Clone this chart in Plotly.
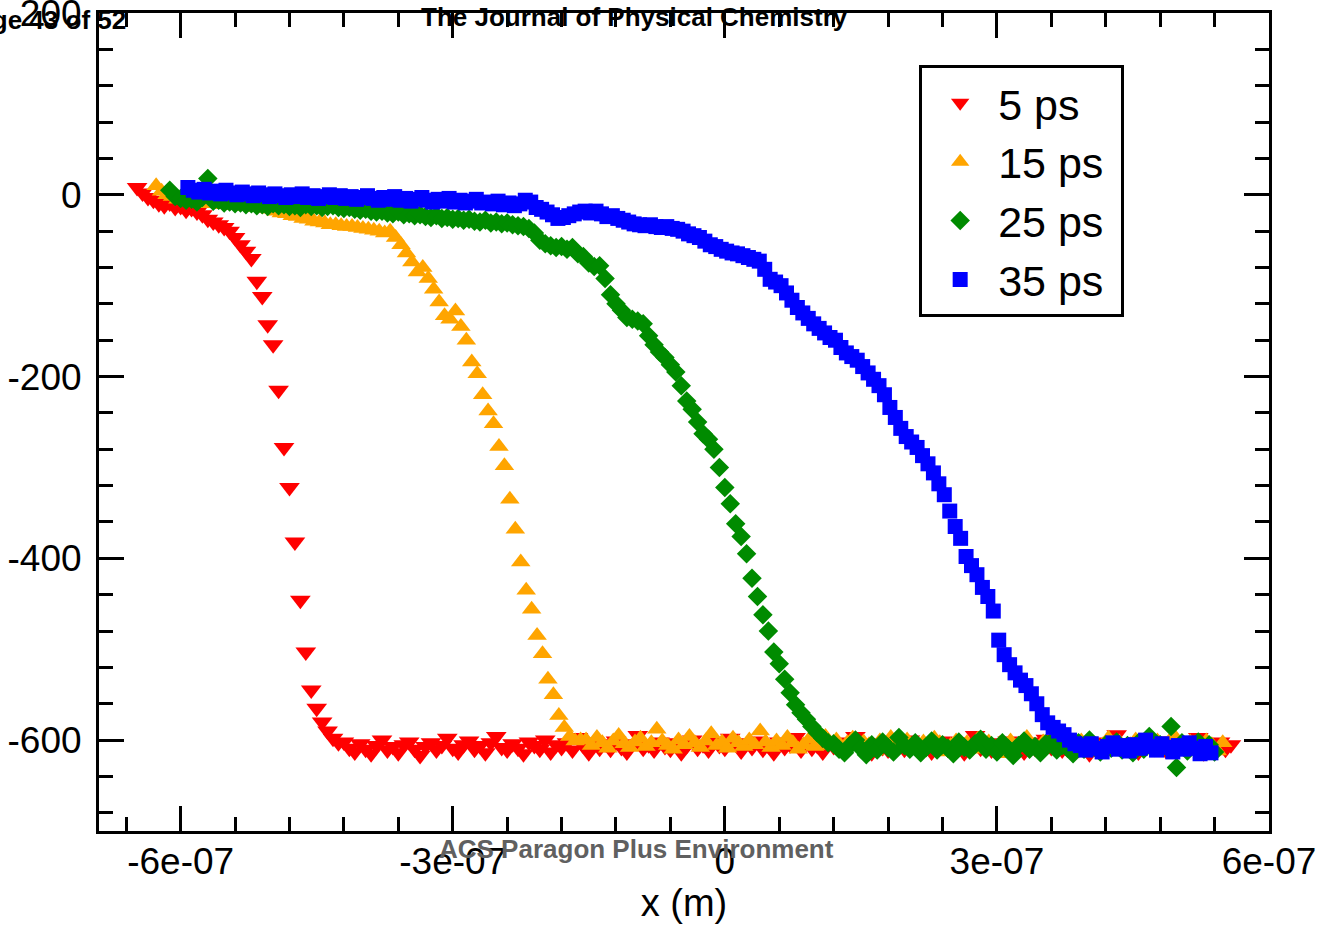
import plotly.graph_objects as go

# ---------------- data (x in metres, y) ----------------
X_5PS = [
    -648e-9, -642e-9, -636e-9, -630e-9, -624e-9, -618e-9, -612e-9, -606e-9, -600e-9, -594e-9, -588e-9, -582e-9,
    -576e-9, -570e-9, -564e-9, -558e-9, -552e-9, -546e-9, -540e-9, -534e-9, -528e-9, -522e-9, -516e-9, -510e-9,
    -504e-9, -498e-9, -492e-9, -486e-9, -480e-9, -474e-9, -468e-9, -462e-9, -456e-9, -450e-9, -444e-9, -438e-9,
    -432e-9, -426e-9, -420e-9, -414e-9, -408e-9, -402e-9, -396e-9, -390e-9, -384e-9, -378e-9, -372e-9, -366e-9,
    -360e-9, -354e-9, -348e-9, -342e-9, -336e-9, -330e-9, -324e-9, -318e-9, -312e-9, -306e-9, -300e-9, -294e-9,
    -288e-9, -282e-9, -276e-9, -270e-9, -264e-9, -258e-9, -252e-9, -246e-9, -240e-9, -234e-9, -228e-9, -222e-9,
    -216e-9, -210e-9, -204e-9, -198e-9, -192e-9, -186e-9, -180e-9, -174e-9, -168e-9, -162e-9, -156e-9, -150e-9,
    -144e-9, -138e-9, -132e-9, -126e-9, -120e-9, -114e-9, -108e-9, -102e-9, -96e-9, -90e-9, -84e-9, -78e-9,
    -72e-9, -66e-9, -60e-9, -54e-9, -48e-9, -42e-9, -36e-9, -30e-9, -24e-9, -18e-9, -12e-9, -6e-9,
    0e-9, 6e-9, 12e-9, 18e-9, 24e-9, 30e-9, 36e-9, 42e-9, 48e-9, 54e-9, 60e-9, 66e-9,
    72e-9, 78e-9, 84e-9, 90e-9, 96e-9, 102e-9, 108e-9, 114e-9, 120e-9, 126e-9, 132e-9, 138e-9,
    144e-9, 150e-9, 156e-9, 162e-9, 168e-9, 174e-9, 180e-9, 186e-9, 192e-9, 198e-9, 204e-9, 210e-9,
    216e-9, 222e-9, 228e-9, 234e-9, 240e-9, 246e-9, 252e-9, 258e-9, 264e-9, 270e-9, 276e-9, 282e-9,
    288e-9, 294e-9, 300e-9, 306e-9, 312e-9, 318e-9, 324e-9, 330e-9, 336e-9, 342e-9, 348e-9, 354e-9,
    360e-9, 366e-9, 372e-9, 378e-9, 384e-9, 390e-9, 396e-9, 402e-9, 408e-9, 414e-9, 420e-9, 426e-9,
    432e-9, 438e-9, 444e-9, 450e-9, 456e-9, 462e-9, 468e-9, 474e-9, 480e-9, 486e-9, 492e-9, 498e-9,
    504e-9, 510e-9, 516e-9, 522e-9, 528e-9, 534e-9, 540e-9, 546e-9, 552e-9, 558e-9,
]
Y_5PS = [
    8, 2, -3, -6, -10, -12, -9, -14, -13, -17, -15, -19, -22, -27, -30, -33, -36, -40, -47, -55,
    -62, -70, -95, -112, -143, -165, -215, -278, -322, -382, -446, -503, -545, -565, -580, -590, -598, -603,
    -602, -609, -613, -604, -610, -615, -606, -600, -611, -607,
    -614, -605, -602, -610, -617, -607, -603, -611, -606, -598,
    -609, -613, -605, -601, -610, -606, -614, -603, -596, -608,
    -611, -604, -609, -615, -602, -606, -610, -600, -613, -605,
    -608, -603, -611, -597, -606, -614, -602, -609, -604, -610,
    -601, -608, -613, -604, -595, -609, -605, -611, -602, -607,
    -610, -603, -614, -606, -600, -609, -605, -611, -602, -606,
    -609, -598, -604, -612, -603, -608, -601, -610, -606, -614,
    -602, -608, -605, -597, -611, -603, -609, -606, -613, -601,
    -607, -604, -610, -602, -596, -609, -606, -614, -603, -608,
    -611, -602, -606, -610, -600, -605, -609, -603, -613, -606,
    -601, -610, -605, -608, -614, -602, -595, -609, -604, -611,
    -603, -608, -601, -610, -606, -613, -602, -609, -604, -599,
    -608, -603, -611, -606, -601, -610, -605, -615, -607, -602,
    -609, -604, -594, -610, -603, -608, -613, -606, -602, -609,
    -604, -611, -601, -608, -603, -610, -606, -597, -614, -604,
    -608, -602, -610, -605,
]

X_15PS = [
    -627e-9, -621e-9, -615e-9, -609e-9, -603e-9, -597e-9, -591e-9, -585e-9, -579e-9, -573e-9, -567e-9, -561e-9,
    -555e-9, -549e-9, -543e-9, -537e-9, -531e-9, -525e-9, -519e-9, -513e-9, -507e-9, -501e-9, -495e-9, -489e-9,
    -483e-9, -477e-9, -471e-9, -465e-9, -459e-9, -453e-9, -447e-9, -441e-9, -435e-9, -429e-9, -423e-9, -417e-9,
    -411e-9, -405e-9, -399e-9, -393e-9, -387e-9, -381e-9, -375e-9, -369e-9, -363e-9, -357e-9, -351e-9, -345e-9,
    -339e-9, -333e-9, -327e-9, -321e-9, -315e-9, -309e-9, -303e-9, -297e-9, -291e-9, -285e-9, -279e-9, -273e-9,
    -267e-9, -261e-9, -255e-9, -249e-9, -243e-9, -237e-9, -231e-9, -225e-9, -219e-9, -213e-9, -207e-9, -201e-9,
    -195e-9, -189e-9, -183e-9, -177e-9, -171e-9, -165e-9, -159e-9, -153e-9, -147e-9, -141e-9, -135e-9, -129e-9,
    -123e-9, -117e-9, -111e-9, -105e-9, -99e-9, -93e-9, -87e-9, -81e-9, -75e-9, -69e-9, -63e-9, -57e-9,
    -51e-9, -45e-9, -39e-9, -33e-9, -27e-9, -21e-9, -15e-9, -9e-9, -3e-9, 3e-9, 9e-9, 15e-9,
    21e-9, 27e-9, 33e-9, 39e-9, 45e-9, 51e-9, 57e-9, 63e-9, 69e-9, 75e-9, 81e-9, 87e-9,
    93e-9, 99e-9, 105e-9, 111e-9, 117e-9, 123e-9, 129e-9, 135e-9, 141e-9, 147e-9, 153e-9, 159e-9,
    165e-9, 171e-9, 177e-9, 183e-9, 189e-9, 195e-9, 201e-9, 207e-9, 213e-9, 219e-9, 225e-9, 231e-9,
    237e-9, 243e-9, 249e-9, 255e-9, 261e-9, 267e-9, 273e-9, 279e-9, 285e-9, 291e-9, 297e-9, 303e-9,
    309e-9, 315e-9, 321e-9, 327e-9, 333e-9, 339e-9, 345e-9, 351e-9, 357e-9, 363e-9, 369e-9, 375e-9,
    381e-9, 387e-9, 393e-9, 399e-9, 405e-9, 411e-9, 417e-9, 423e-9, 429e-9, 435e-9, 441e-9, 447e-9,
    453e-9, 459e-9, 465e-9, 471e-9, 477e-9, 483e-9, 489e-9, 495e-9, 501e-9, 507e-9, 513e-9, 519e-9,
    525e-9, 531e-9, 537e-9, 543e-9, 549e-9,
]
Y_15PS = [
    10, 4, 0, -2, -5, -4, -7, -8, -9, -7,
    -10, -9, -11, -10, -12, -11, -13, -12, -14, -13,
    -15, -16, -18, -20, -21, -23, -24, -26, -27, -29,
    -30, -31, -33, -33, -34, -35, -35, -36, -37, -38,
    -39, -40, -42, -40, -47, -55, -64, -74, -85, -80,
    -92, -104, -118, -133, -137, -128, -145, -160, -184, -197,
    -220, -238, -252, -277, -298, -335, -368, -404, -435, -456,
    -485, -505, -533, -550, -573, -586, -596, -601, -600,
    -600, -606, -597, -603, -609, -601, -595, -604, -608, -602,
    -598, -607, -603, -588, -601, -606, -610, -600, -605, -596,
    -603, -608, -601, -593, -606, -602, -609, -598, -603, -607,
    -600, -605, -590, -602, -608, -601, -606, -597, -603, -610,
    -605, -599, -607, -602, -596, -606, -600, -609, -603, -598,
    -607, -602, -605, -612, -601, -606, -597, -603, -608, -600,
    -605, -609, -602, -607, -598, -603, -613, -606, -601, -608,
    -603, -610, -599, -606, -602, -608, -604, -615, -601, -607,
    -603, -597, -606, -610, -602, -607, -600, -605, -609, -603,
    -606, -601, -608, -603, -612, -605, -598, -607, -602, -609,
    -605, -600, -607, -603, -611, -601, -606, -608, -595, -604,
    -607, -602, -606, -609, -601, -605, -612, -603,
]

X_25PS = [
    -612e-9, -606e-9, -600e-9, -594e-9, -588e-9, -582e-9, -576e-9, -570e-9, -564e-9, -558e-9, -552e-9, -546e-9,
    -540e-9, -534e-9, -528e-9, -522e-9, -516e-9, -510e-9, -504e-9, -498e-9, -492e-9, -486e-9, -480e-9, -474e-9,
    -468e-9, -462e-9, -456e-9, -450e-9, -444e-9, -438e-9, -432e-9, -426e-9, -420e-9, -414e-9, -408e-9, -402e-9,
    -396e-9, -390e-9, -384e-9, -378e-9, -372e-9, -366e-9, -360e-9, -354e-9, -348e-9, -342e-9, -336e-9, -330e-9,
    -324e-9, -318e-9, -312e-9, -306e-9, -300e-9, -294e-9, -288e-9, -282e-9, -276e-9, -270e-9, -264e-9, -258e-9,
    -252e-9, -246e-9, -240e-9, -234e-9, -228e-9, -222e-9, -216e-9, -210e-9, -204e-9, -198e-9, -192e-9, -186e-9,
    -180e-9, -174e-9, -168e-9, -162e-9, -156e-9, -150e-9, -144e-9, -138e-9, -132e-9, -126e-9, -120e-9, -114e-9,
    -108e-9, -102e-9, -96e-9, -90e-9, -84e-9, -78e-9, -72e-9, -66e-9, -60e-9, -54e-9, -48e-9, -42e-9,
    -36e-9, -30e-9, -24e-9, -18e-9, -12e-9, -6e-9, 0e-9, 6e-9, 12e-9, 18e-9, 24e-9, 30e-9,
    36e-9, 42e-9, 48e-9, 54e-9, 60e-9, 66e-9, 72e-9, 78e-9, 84e-9, 90e-9, 96e-9, 102e-9,
    108e-9, 114e-9, 120e-9, 126e-9, 132e-9, 138e-9, 144e-9, 150e-9, 156e-9, 162e-9, 168e-9, 174e-9,
    180e-9, 186e-9, 192e-9, 198e-9, 204e-9, 210e-9, 216e-9, 222e-9, 228e-9, 234e-9, 240e-9, 246e-9,
    252e-9, 258e-9, 264e-9, 270e-9, 276e-9, 282e-9, 288e-9, 294e-9, 300e-9, 306e-9, 312e-9, 318e-9,
    324e-9, 330e-9, 336e-9, 342e-9, 348e-9, 354e-9, 360e-9, 366e-9, 372e-9, 378e-9, 384e-9, 390e-9,
    396e-9, 402e-9, 408e-9, 414e-9, 420e-9, 426e-9, 432e-9, 438e-9, 444e-9, 450e-9, 456e-9, 462e-9,
    468e-9, 474e-9, 480e-9, 486e-9, 492e-9, 498e-9, 504e-9, 510e-9, 516e-9, 522e-9, 528e-9, 534e-9,
    540e-9,
]
Y_25PS = [
    5, -2, -4, -6, -5, -8, -3, 18, -7, -6, -9, -8,
    -10, -9, -11, -10, -12, -11, -13, -10, -12, -11, -13, -12,
    -14, -11, -13, -12, -14, -13, -12, -14, -15, -14, -16, -17,
    -16, -18, -19, -18, -20, -21, -19, -22, -21, -23, -22, -24,
    -25, -23, -26, -25, -27, -26, -28, -27, -29, -30, -28, -31,
    -30, -32, -31, -33, -34, -35, -37, -42, -50, -54, -56, -58,
    -57, -60, -58, -65, -68, -75, -79, -78, -92, -110, -120, -127,
    -135, -137, -139, -142, -155, -165, -173, -179, -187, -195, -210, -227,
    -236, -250, -263, -269, -280, -300, -322, -340, -362, -376, -395, -422,
    -442, -462, -480, -503, -516, -533, -548, -561, -570, -577, -585, -592,
    -598, -603,
    -604, -610, -614, -606, -600, -609, -616, -605, -611, -602,
    -608, -613, -597, -606, -610, -603, -614, -608, -601, -611,
    -605, -609, -615, -602, -608, -611, -604, -599, -610, -606,
    -613, -603, -609, -617, -606, -601, -610, -607, -614, -604,
    -602, -611, -606, -609, -615, -603, -610, -600, -608, -613,
    -605, -609, -602, -611, -606, -614, -603, -610, -596, -607,
    -605, -607, -585, -630, -603, -612, -606, -602, -610, -605,
    -613,
]

X_35PS = [
    -592e-9, -586e-9, -580e-9, -574e-9, -568e-9, -562e-9, -556e-9, -550e-9, -544e-9, -538e-9, -532e-9, -526e-9,
    -520e-9, -514e-9, -508e-9, -502e-9, -496e-9, -490e-9, -484e-9, -478e-9, -472e-9, -466e-9, -460e-9, -454e-9,
    -448e-9, -442e-9, -436e-9, -430e-9, -424e-9, -418e-9, -412e-9, -406e-9, -400e-9, -394e-9, -388e-9, -382e-9,
    -376e-9, -370e-9, -364e-9, -358e-9, -352e-9, -346e-9, -340e-9, -334e-9, -328e-9, -322e-9, -316e-9, -310e-9,
    -304e-9, -298e-9, -292e-9, -286e-9, -280e-9, -274e-9, -268e-9, -262e-9, -256e-9, -250e-9, -244e-9, -238e-9,
    -232e-9, -226e-9, -220e-9, -214e-9, -208e-9, -202e-9, -196e-9, -190e-9, -184e-9, -178e-9, -172e-9, -166e-9,
    -160e-9, -154e-9, -148e-9, -142e-9, -136e-9, -130e-9, -124e-9, -118e-9, -112e-9, -106e-9, -100e-9, -94e-9,
    -88e-9, -82e-9, -76e-9, -70e-9, -64e-9, -58e-9, -52e-9, -46e-9, -40e-9, -34e-9, -28e-9, -22e-9,
    -16e-9, -10e-9, -4e-9, 2e-9, 8e-9, 14e-9, 20e-9, 26e-9, 32e-9, 38e-9, 44e-9, 50e-9,
    56e-9, 62e-9, 68e-9, 74e-9, 80e-9, 86e-9, 92e-9, 98e-9, 104e-9, 110e-9, 116e-9, 122e-9,
    128e-9, 134e-9, 140e-9, 146e-9, 152e-9, 158e-9, 164e-9, 170e-9, 176e-9, 182e-9, 188e-9, 194e-9,
    200e-9, 206e-9, 212e-9, 218e-9, 224e-9, 230e-9, 236e-9, 242e-9, 248e-9, 254e-9, 260e-9, 266e-9,
    272e-9, 278e-9, 284e-9, 290e-9, 296e-9, 302e-9, 308e-9, 314e-9, 320e-9, 326e-9, 332e-9, 338e-9,
    344e-9, 350e-9, 356e-9, 362e-9, 368e-9, 374e-9, 380e-9, 386e-9, 392e-9, 398e-9, 404e-9, 410e-9,
    416e-9, 422e-9, 428e-9, 434e-9, 440e-9, 446e-9, 452e-9, 458e-9, 464e-9, 470e-9, 476e-9, 482e-9,
    488e-9, 494e-9, 500e-9, 506e-9, 512e-9, 518e-9, 524e-9, 530e-9, 536e-9,
]
Y_35PS = [
    8, 5, 3, 6, 2, 4, 1, 5, 2, 0, 3, 1,
    -1, 2, 0, -2, 1, -1, -3, 0, -2, 1, -3, -1,
    -4, -2, 0, -3, -1, -4, -2, -5, -3, -1, -4, -6,
    -3, -5, -2, -6, -4, -7, -5, -3, -6, -8, -5, -7,
    -4, -8, -6, -9, -7, -5, -9, -8, -10, -7, -11, -9,
    -12, -10, -6, -8, -14, -16, -19, -22, -26, -25, -23, -21,
    -19, -18, -20, -18, -21, -24, -23, -26, -28, -30, -32, -33,
    -34, -33, -35, -36, -35, -37, -38, -40, -43, -45, -47, -51,
    -55, -57, -60, -62, -64, -65, -67, -69, -71, -73, -82, -93,
    -96, -100, -108, -116, -124, -130, -136, -142, -147, -152, -157, -160,
    -168, -174, -178, -182, -189, -196, -203, -210, -220, -234, -245, -257,
    -266, -272, -278, -287, -296, -306, -318, -330, -348, -365, -378, -398,
    -408, -418, -432, -442, -458, -490, -506, -517, -526, -534, -540, -549,
    -560, -572, -581, -586, -590, -594, -600, -604, -606, -611, -604, -609,
    -613, -607, -603, -610, -606, -612, -605, -609, -600, -607, -611, -604,
    -608, -613, -606, -610, -603, -609, -615, -607, -614,
]

SERIES_NAMES = ["5 ps", "15 ps", "25 ps", "35 ps"]
SERIES_X = [X_5PS, X_15PS, X_25PS, X_35PS]
SERIES_Y = [Y_5PS, Y_15PS, Y_25PS, Y_35PS]
SERIES_COLORS = ["#ff0000", "#ffa500", "#008b00", "#0000ff"]
SERIES_SYMBOLS = ["triangle-down", "triangle-up", "diamond", "square"]
SERIES_SIZES = [18, 17, 15, 15]

X_TICKS = [-6e-07, -3e-07, 0, 3e-07, 6e-07]
X_TICK_LABELS = ["-6e-07", "-3e-07", "0", "3e-07", "6e-07"]
Y_TICKS = [-600, -400, -200, 0, 200]
Y_TICK_LABELS = ["-600", "-400", "-200", "0", "200"]

FONT = "Liberation Sans, Arial, Helvetica, sans-serif"

fig = go.Figure()
for name, xs, ys, col, sym, sz in zip(SERIES_NAMES, SERIES_X, SERIES_Y,
                                      SERIES_COLORS, SERIES_SYMBOLS, SERIES_SIZES):
    fig.add_trace(go.Scatter(
        x=xs, y=ys, name=name + "\u00a0", mode="markers",
        marker=dict(symbol=sym, color=col, size=sz, line=dict(width=0)),
    ))

axis_common = dict(
    showgrid=False, zeroline=False, showline=True, linecolor="black", linewidth=3,
    mirror="ticks", ticks="inside", ticklen=25, tickwidth=3, tickcolor="black",
    tickfont=dict(family=FONT, size=37, color="black"), automargin=False,
    ticklabeloverflow="allow",
)

fig.update_xaxes(
    range=[-6.9e-07, 6e-07], tickmode="array", tickvals=X_TICKS, ticktext=X_TICK_LABELS,
    minor=dict(tickmode="linear", tick0=0, dtick=6e-08, ticks="inside", ticklen=14,
               tickwidth=3, tickcolor="black", showgrid=False),
    title=dict(text="x (m)", font=dict(family=FONT, size=38, color="black"), standoff=6),
    ticklabelstandoff=-4,
    **axis_common,
)
fig.update_yaxes(
    range=[-700, 200.01], tickmode="array", tickvals=Y_TICKS, ticktext=Y_TICK_LABELS,
    minor=dict(tickmode="linear", tick0=0, dtick=40, ticks="inside", ticklen=14,
               tickwidth=3, tickcolor="black", showgrid=False),
    ticklabelstandoff=7,
    **axis_common,
)

fig.update_layout(
    width=1326, height=925,
    margin=dict(l=99, r=57, t=13, b=94),
    paper_bgcolor="white", plot_bgcolor="white",
    font=dict(family=FONT, color="black"),
    showlegend=True,
    legend=dict(
        x=0.701, y=0.936, xanchor="left", yanchor="top",
        bgcolor="white", bordercolor="black", borderwidth=3,
        font=dict(family=FONT, size=43, color="black"),
        itemwidth=66, tracegroupgap=0,
    ),
    annotations=[
        dict(text="<b>Page 43 of 52</b>", xref="paper", yref="paper", x=0.0248, y=0.9914,
             xanchor="right", yanchor="middle", showarrow=False,
             font=dict(family=FONT, size=26, color="black")),
        dict(text="<b>The Journal of Physical Chemistry</b>", xref="paper", yref="paper",
             x=0.458, y=0.9945, xanchor="center", yanchor="middle", showarrow=False,
             font=dict(family=FONT, size=26, color="black")),
        dict(text="<b>ACS Paragon Plus Environment</b>", xref="paper", yref="paper",
             x=0.459, y=-0.0215, xanchor="center", yanchor="middle", showarrow=False,
             font=dict(family=FONT, size=26, color="#606060")),
    ],
)

fig.write_html("out.html")
